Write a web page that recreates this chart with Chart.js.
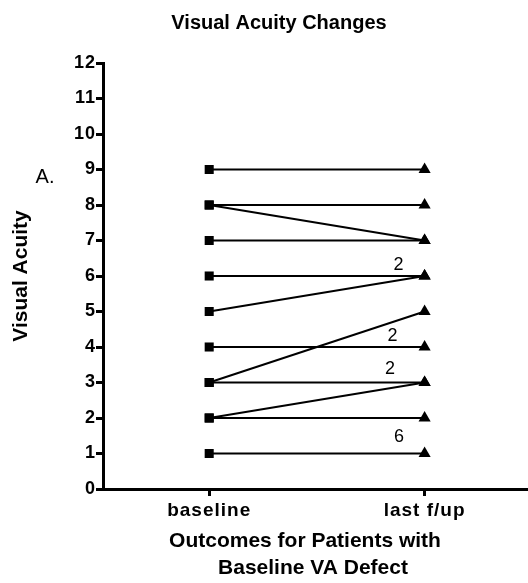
<!DOCTYPE html>
<html>
<head>
<meta charset="utf-8">
<script src="https://cdn.jsdelivr.net/npm/chart.js@4/dist/chart.umd.min.js"></script>
<style>
html,body{margin:0;padding:0;background:#fff;}
#wrap{width:528px;height:583px;position:relative;}
</style>
</head>
<body>
<div id="wrap"><canvas id="c"></canvas></div>
<script>
const categories = ['baseline', 'last f/up'];
const baselineValues = [9, 8, 8, 7, 6, 5, 4, 3, 3, 2, 2, 1];
const lastValues     = [9, 8, 7, 7, 6, 6, 4, 5, 3, 3, 2, 1];
const yTicks = [0,1,2,3,4,5,6,7,8,9,10,11,12];
const countLabels = ['2', '2', '2', '6'];
const countLabelX = [1.879, 1.851, 1.839, 1.881];
const countLabelY = [6.31, 4.32, 3.39, 1.45];

const FONT = '"Liberation Sans", Arial, sans-serif';

const datasets = baselineValues.map((b, i) => ({
  data: [{x: 1, y: b}, {x: 2, y: lastValues[i]}],
  borderColor: '#000',
  borderWidth: 2,
  backgroundColor: '#000',
  pointBackgroundColor: '#000',
  pointBorderWidth: 0,
  pointStyle: ['rect', 'triangle'],
  pointRadius: [6.4, 7],
  pointHoverRadius: [6.4, 7],
  fill: false,
  tension: 0
}));

const textPlugin = {
  id: 'texts',
  beforeDraw(chart) {
    chart.ctx.letterSpacing = '1px';
  },
  beforeDatasetsDraw(chart) {
    chart.ctx.letterSpacing = '0px';
  },
  afterDraw(chart) {
    const ctx = chart.ctx;
    const xs = chart.scales.x, ys = chart.scales.y;
    ctx.save();
    ctx.letterSpacing = '0px';
    ctx.fillStyle = '#000';
    ctx.textAlign = 'center';
    ctx.textBaseline = 'middle';
    ctx.font = 'bold 20px ' + FONT;
    ctx.fillText('Visual Acuity Changes', 279, 23);
    ctx.font = 'bold 21px ' + FONT;
    ctx.fillText('Outcomes for Patients with', 305, 541);
    ctx.fillText('Baseline VA Defect', 313, 568);
    ctx.save();
    ctx.translate(21, (chart.chartArea.top + chart.chartArea.bottom) / 2);
    ctx.rotate(-Math.PI / 2);
    ctx.fillText('Visual Acuity', 0, 0);
    ctx.restore();
    ctx.font = '20px ' + FONT;
    ctx.fillText('A.', 45, 177);
    ctx.font = '18px ' + FONT;
    countLabels.forEach((t, i) => {
      ctx.fillText(t, xs.getPixelForValue(countLabelX[i]), ys.getPixelForValue(countLabelY[i]));
    });
    ctx.restore();
  }
};

new Chart(document.getElementById('c'), {
  type: 'line',
  data: { datasets },
  plugins: [textPlugin],
  options: {
    responsive: true,
    maintainAspectRatio: false,
    animation: false,
    layout: { autoPadding: false, padding: { top: 63, left: 0, right: 0, bottom: 0 } },
    plugins: { legend: { display: false }, tooltip: { enabled: false }, title: { display: false } },
    scales: {
      x: {
        type: 'linear',
        min: 0.507,
        max: 2.48,
        afterBuildTicks(scale) { scale.ticks = [{value: 1}, {value: 2}]; },
        afterFit(scale) { scale.height = 94; },
        ticks: {
          color: '#000',
          font: { family: FONT, size: 19, weight: 'bold' },
          padding: 3,
          callback: (v) => categories[Math.round(v) - 1] || ''
        },
        grid: { drawOnChartArea: false, color: '#000', lineWidth: 3, tickLength: 7 },
        border: { color: '#000', width: 3 },
        title: { display: false }
      },
      y: {
        type: 'linear',
        min: 0,
        max: 12,
        afterBuildTicks(scale) { scale.ticks = yTicks.map(v => ({value: v})); },
        afterFit(scale) { scale.width = 103; },
        ticks: {
          color: '#000',
          font: { family: FONT, size: 18, weight: 'bold' },
          padding: 0
        },
        grid: { drawOnChartArea: false, color: '#000', lineWidth: 3, tickLength: 7 },
        border: { color: '#000', width: 3 },
        title: { display: false }
      }
    }
  }
});
</script>
</body>
</html>
